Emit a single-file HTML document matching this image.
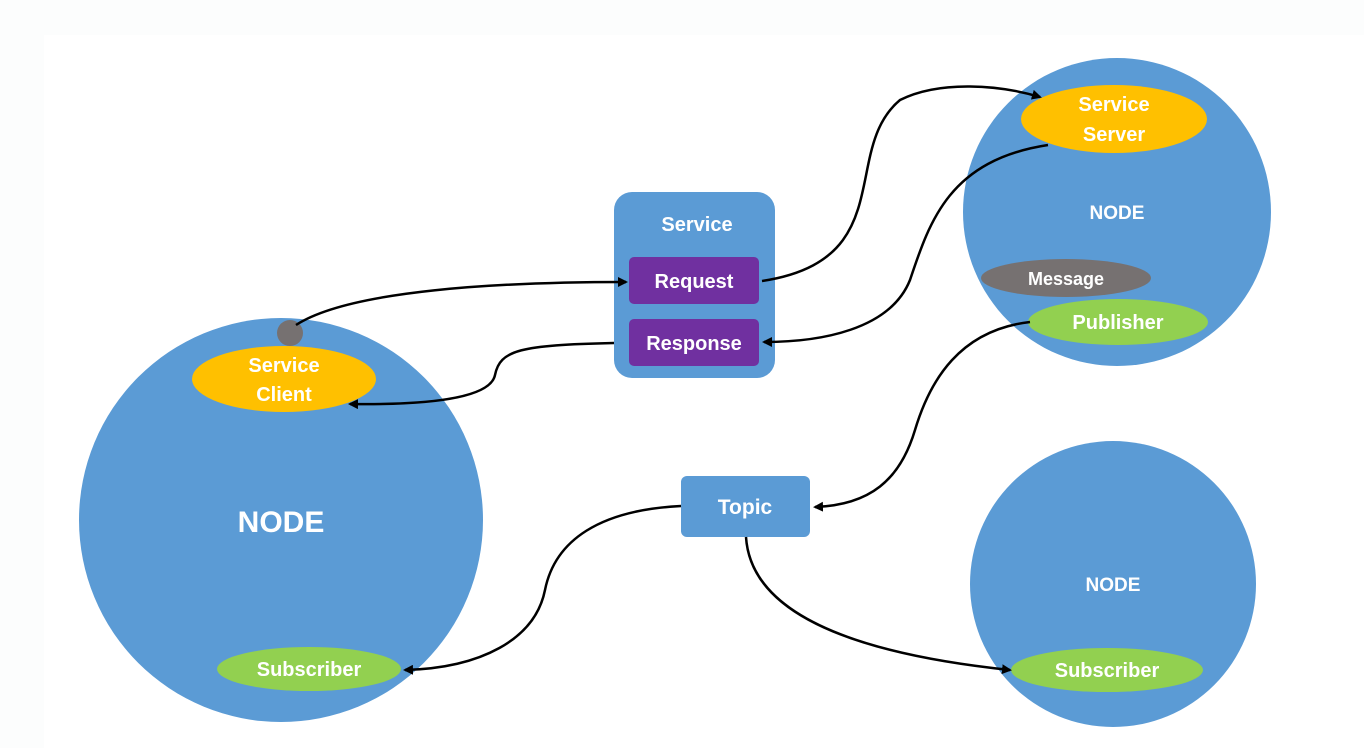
<!DOCTYPE html>
<html><head><style>body{margin:0;background:#fcfdfd}svg{display:block}</style></head><body>
<svg width="1364" height="748" xmlns="http://www.w3.org/2000/svg" font-family="Liberation Sans, sans-serif" font-weight="bold">
<defs><marker id="a" markerWidth="10" markerHeight="10" refX="8" refY="5" orient="auto" markerUnits="userSpaceOnUse"><path d="M0,0 L10,5 L0,10 Z" fill="#000"/></marker></defs>
<rect x="44" y="35" width="1320" height="713" fill="#fff"/>
<circle cx="281" cy="520" r="202" fill="#5b9bd5"/>
<circle cx="1117" cy="212" r="154" fill="#5b9bd5"/>
<circle cx="1113" cy="584" r="143" fill="#5b9bd5"/>
<rect x="614" y="192" width="161" height="186" rx="18" fill="#5b9bd5"/>
<rect x="629" y="257" width="130" height="47" rx="5" fill="#7030a0"/>
<rect x="629" y="319" width="130" height="47" rx="5" fill="#7030a0"/>
<rect x="681" y="476" width="129" height="61" rx="6" fill="#5b9bd5"/>
<ellipse cx="284" cy="379" rx="92" ry="33" fill="#ffc000"/>
<ellipse cx="1114" cy="119" rx="93" ry="34" fill="#ffc000"/>
<ellipse cx="1066" cy="278" rx="85" ry="19" fill="#767171"/>
<ellipse cx="1118" cy="322" rx="90" ry="23" fill="#92d050"/>
<ellipse cx="309" cy="669" rx="92" ry="22" fill="#92d050"/>
<ellipse cx="1107" cy="670" rx="96" ry="22" fill="#92d050"/>
<circle cx="290" cy="333" r="13" fill="#767171"/>
<g fill="none" stroke="#000" stroke-width="2.5">
<path d="M296,325 C350,290 500,282 626,282" marker-end="url(#a)"/>
<path d="M762,281 C900,260 840,150 900,100 C940,80 1000,85 1040,97" marker-end="url(#a)"/>
<path d="M1048,145 C950,160 930,220 910,280 C890,330 820,342 764,342" marker-end="url(#a)"/>
<path d="M614,343 C520,345 500,350 495,375 C490,400 420,405 350,404" marker-end="url(#a)"/>
<path d="M1030,322 C960,330 930,380 915,430 C900,480 870,505 815,507" marker-end="url(#a)"/>
<path d="M681,506 C600,510 555,540 545,590 C535,640 480,668 405,670" marker-end="url(#a)"/>
<path d="M746,537 C750,600 820,650 1010,670" marker-end="url(#a)"/>
</g>
<g fill="#fff" text-anchor="middle">
<text x="697" y="231" font-size="20">Service</text>
<text x="694" y="288" font-size="20">Request</text>
<text x="694" y="350" font-size="20">Response</text>
<text x="745" y="514" font-size="21">Topic</text>
<text x="281" y="532" font-size="30">NODE</text>
<text x="1117" y="219" font-size="19">NODE</text>
<text x="1113" y="591" font-size="19">NODE</text>
<text x="284" y="372" font-size="20">Service</text>
<text x="284" y="401" font-size="20">Client</text>
<text x="1114" y="111" font-size="20">Service</text>
<text x="1114" y="141" font-size="20">Server</text>
<text x="1066" y="285" font-size="18">Message</text>
<text x="1118" y="329" font-size="20">Publisher</text>
<text x="309" y="676" font-size="20">Subscriber</text>
<text x="1107" y="677" font-size="20">Subscriber</text>
</g>
</svg>
</body></html>
